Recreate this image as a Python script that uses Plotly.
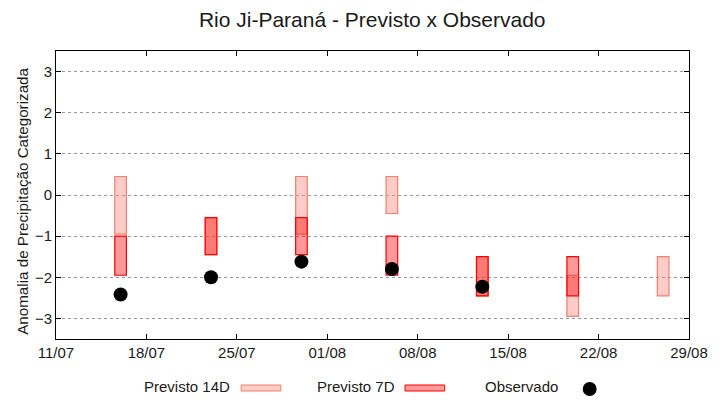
import plotly.graph_objects as go

# ---- data ----
dates = ['2024-07-16', '2024-07-23', '2024-07-30', '2024-08-06', '2024-08-13', '2024-08-20', '2024-08-27']
p14_top = [0.45, -0.55, 0.45, 0.45, -1.5, -1.95, -1.5]
p14_bot = [-0.95, -1.45, -0.95, -0.45, -2.45, -2.95, -2.45]
p7_dates = ['2024-07-16', '2024-07-23', '2024-07-30', '2024-08-06', '2024-08-13', '2024-08-20']
p7_top = [-1.0, -0.55, -0.55, -1.0, -1.5, -1.5]
p7_bot = [-1.95, -1.45, -1.45, -1.95, -2.45, -2.45]
obs_dates = ['2024-07-16', '2024-07-23', '2024-07-30', '2024-08-06', '2024-08-13']
obs = [-2.42, -2.0, -1.62, -1.80, -2.23]

DAY = 86400000
FONT = "Liberation Sans, Arial, sans-serif"
C14_FILL = 'rgba(250,128,114,0.4)'
C14_LINE = '#F08070'
C7_FILL = 'rgba(255,0,0,0.4)'
C7_LINE = '#FF0000'

fig = go.Figure()
fig.add_trace(go.Bar(
    x=dates, y=[t - b for t, b in zip(p14_top, p14_bot)], base=p14_bot,
    width=[0.9 * DAY] * len(dates), name='Previsto 14D',
    marker=dict(color=C14_FILL, line=dict(color=C14_LINE, width=1.2)),
    showlegend=False))
fig.add_trace(go.Bar(
    x=p7_dates, y=[t - b for t, b in zip(p7_top, p7_bot)], base=p7_bot,
    width=[0.9 * DAY] * len(p7_dates), name='Previsto 7D',
    marker=dict(color=C7_FILL, line=dict(color=C7_LINE, width=1.2)),
    showlegend=False))
fig.add_trace(go.Scatter(
    x=obs_dates, y=obs, mode='markers', name='Observado',
    marker=dict(color='black', size=14), showlegend=False))

# y-axis title as rotated annotation
fig.add_annotation(x=-0.0541, y=0.479, xref='paper', yref='paper',
                   text='Anomalia de Precipitação Categorizada', textangle=-90,
                   showarrow=False, xanchor='center', yanchor='middle', font=dict(size=15.2))

# custom legend (text followed by glyph)
ly = -0.165
fig.add_annotation(x=0.2784, y=ly, xref='paper', yref='paper', text='Previsto 14D',
                   showarrow=False, xanchor='right', yanchor='middle')
fig.add_shape(type='rect', xref='paper', yref='paper', x0=0.2925, x1=0.3553, y0=-0.1806, y1=-0.1597,
              fillcolor=C14_FILL, line=dict(color=C14_LINE, width=1))
fig.add_annotation(x=0.5388, y=ly, xref='paper', yref='paper', text='Previsto 7D',
                   showarrow=False, xanchor='right', yanchor='middle')
fig.add_shape(type='rect', xref='paper', yref='paper', x0=0.5514, x1=0.6141, y0=-0.1806, y1=-0.1597,
              fillcolor=C7_FILL, line=dict(color=C7_LINE, width=1))
fig.add_annotation(x=0.7961, y=ly, xref='paper', yref='paper', text='Observado',
                   showarrow=False, xanchor='right', yanchor='middle')
fig.add_shape(type='circle', xref='paper', yref='paper', x0=0.8431 - 0.011, x1=0.8431 + 0.011,
              y0=-0.1736 - 0.0243, y1=-0.1736 + 0.0243, fillcolor='black', line=dict(color='black', width=0))

fig.update_layout(
    width=720, height=400,
    margin=dict(l=56, r=27, t=51, b=61),
    paper_bgcolor='white', plot_bgcolor='white',
    barmode='overlay',
    font=dict(family=FONT, size=15, color='#1a1a1a'),
    title=dict(text='Rio Ji-Paraná - Previsto x Observado', x=0.517, xanchor='center',
               y=0.95, yanchor='middle', font=dict(size=21)),
)
fig.update_xaxes(
    type='date', range=['2024-07-11', '2024-08-29'],
    tick0='2024-07-11', dtick=7 * DAY, tickformat='%d/%m',
    showgrid=False, zeroline=False,
    showline=True, linecolor='black', linewidth=1, mirror='ticks',
    ticks='inside', ticklen=5, tickcolor='black',
)
fig.update_yaxes(
    range=[-3.5, 3.5], tickvals=[-3, -2, -1, 0, 1, 2, 3],
    showgrid=True, gridcolor='#999999', griddash='dot', gridwidth=1,
    zeroline=False,
    showline=True, linecolor='black', linewidth=1, mirror='ticks',
    ticks='inside', ticklen=5, tickcolor='black',
)

fig.write_html('out.html', config={'displayModeBar': False},
               post_script="document.body.style.margin='0';document.body.style.padding='0';"
                           "document.body.style.overflow='hidden';")
